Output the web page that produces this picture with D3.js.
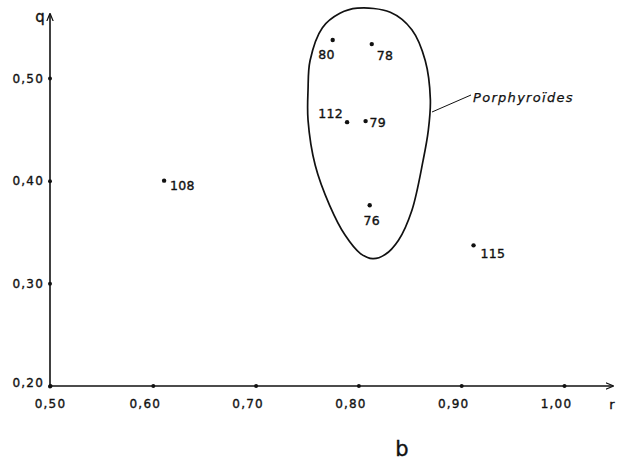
<!DOCTYPE html>
<html>
<head>
<meta charset="utf-8">
<script src="https://cdn.jsdelivr.net/npm/d3@7"></script>
<style>
  body { margin: 0; background: #fff; }
  svg text { font-family: "DejaVu Sans", "Liberation Sans", sans-serif; fill: #111; stroke: #111; stroke-width: 0.35px; }
  .tick-label { font-size: 12px; letter-spacing: 1.2px; }
  .pt-label { font-size: 12.5px; letter-spacing: 0.3px; }
</style>
</head>
<body>
<svg width="621" height="461"></svg>
<script>
(function() {

  // samples: name, r, q
  var names = ["108", "80", "78", "112", "79", "76", "115"];
  var rValues = [0.611, 0.775, 0.813, 0.789, 0.807, 0.811, 0.912];
  var qValues = [0.400, 0.537, 0.533, 0.457, 0.458, 0.376, 0.337];

  // outline of the Porphyroides field (r, q), closed curve
  var fieldR = [0.799, 0.831, 0.852, 0.865, 0.870, 0.868, 0.863, 0.852, 0.839, 0.826, 0.814,
                0.802, 0.787, 0.772, 0.758, 0.751, 0.751, 0.753, 0.765, 0.782];
  var fieldQ = [0.568, 0.564, 0.547, 0.517, 0.479, 0.449, 0.420, 0.371, 0.342, 0.328, 0.324,
                0.329, 0.347, 0.376, 0.415, 0.459, 0.488, 0.517, 0.549, 0.563];

  var xTicks = [0.5, 0.6, 0.7, 0.8, 0.9, 1.0];
  var yTicks = [0.2, 0.3, 0.4, 0.5];

  var svg = d3.select('svg');

  var x = d3.scaleLinear().domain([0.5, 1.0]).range([50, 564]);
  var y = d3.scaleLinear().domain([0.2, 0.5]).range([386, 78]);

  var fmt = function(d) { return d3.format('.2f')(d).replace('.', ','); };

  svg.append('defs').append('marker')
    .attr('id', 'arrow')
    .attr('viewBox', '0 0 10 10')
    .attr('refX', 9).attr('refY', 5)
    .attr('markerWidth', 8).attr('markerHeight', 8)
    .attr('markerUnits', 'userSpaceOnUse')
    .attr('orient', 'auto')
    .append('path')
    .attr('d', 'M0,1 L10,5 L0,9')
    .attr('fill', 'none')
    .attr('stroke', '#111')
    .attr('stroke-width', 1.5);

  // axes lines with arrows
  svg.append('line')
    .attr('x1', x(0.5)).attr('y1', y(0.2))
    .attr('x2', 613).attr('y2', y(0.2))
    .attr('stroke', '#111').attr('stroke-width', 1.3)
    .attr('marker-end', 'url(#arrow)');
  svg.append('line')
    .attr('x1', x(0.5)).attr('y1', y(0.2))
    .attr('x2', x(0.5)).attr('y2', 14)
    .attr('stroke', '#111').attr('stroke-width', 1.6)
    .attr('marker-end', 'url(#arrow)');

  // ticks drawn by d3 axes, domain removed
  var xAxis = svg.append('g')
    .attr('transform', 'translate(0,' + y(0.2) + ')')
    .call(d3.axisBottom(x).tickValues(xTicks).tickSize(0).tickPadding(0).tickFormat(fmt));
  xAxis.select('.domain').remove();
  xAxis.selectAll('.tick text')
    .attr('class', 'tick-label')
    .attr('dy', null)
    .attr('y', 22)
    .attr('dx', function(d) { return d === 0.5 ? 0 : -8; })
    .style('font-family', null).style('font-size', null);
  xAxis.selectAll('.tick').append('circle')
    .attr('r', 2).attr('fill', '#111');

  var yAxis = svg.append('g')
    .attr('transform', 'translate(' + x(0.5) + ',0)')
    .call(d3.axisLeft(y).tickValues(yTicks).tickSize(0).tickPadding(6).tickFormat(fmt));
  yAxis.select('.domain').remove();
  yAxis.selectAll('.tick text')
    .attr('class', 'tick-label')
    .attr('dy', function(d) { return d === 0.2 ? '0.05em' : '0.35em'; })
    .style('font-family', null).style('font-size', null);
  yAxis.selectAll('.tick').append('circle')
    .attr('r', 2).attr('fill', '#111');

  // axis names
  svg.append('text').attr('x', 40).attr('y', 22)
    .attr('text-anchor', 'middle').style('font-size', '15px').text('q');
  svg.append('text').attr('x', 612).attr('y', 409)
    .attr('text-anchor', 'middle').style('font-size', '13px').text('r');

  // field outline
  var field = fieldR.map(function(r, i) { return [r, fieldQ[i]]; });
  var line = d3.line()
    .x(function(d) { return x(d[0]); })
    .y(function(d) { return y(d[1]); })
    .curve(d3.curveCatmullRomClosed.alpha(0.5));
  svg.append('path')
    .datum(field)
    .attr('d', line)
    .attr('fill', 'none')
    .attr('stroke', '#111')
    .attr('stroke-width', 1.7);

  // leader to label
  svg.append('line')
    .attr('x1', 432).attr('y1', 112)
    .attr('x2', 471).attr('y2', 95)
    .attr('stroke', '#111').attr('stroke-width', 1);
  svg.append('text')
    .attr('x', 473).attr('y', 102)
    .style('font-size', '13px').style('font-style', 'italic').style('letter-spacing', '1.3px')
    .style('stroke-width', '0.25px')
    .text('Porphyroïdes');

  // points
  var points = names.map(function(n, i) { return {name: n, r: rValues[i], q: qValues[i]}; });

  svg.selectAll('.pt').data(points).enter().append('circle')
    .attr('class', 'pt')
    .attr('cx', function(d) { return x(d.r); })
    .attr('cy', function(d) { return y(d.q); })
    .attr('r', 2.2)
    .attr('fill', '#111');

  // label placement relative to dot
  var offsets = {
    '108': [6, 9, 'start'],
    '80': [2, 19, 'end'],
    '78': [5, 16, 'start'],
    '112': [-4, -4, 'end'],
    '79': [4, 6, 'start'],
    '76': [2, 20, 'middle'],
    '115': [7, 13, 'start']
  };

  svg.selectAll('.pt-label').data(points).enter().append('text')
    .attr('class', 'pt-label')
    .attr('x', function(d) { return x(d.r) + offsets[d.name][0]; })
    .attr('y', function(d) { return y(d.q) + offsets[d.name][1]; })
    .attr('text-anchor', function(d) { return offsets[d.name][2]; })
    .text(function(d) { return d.name; });

  svg.append('text')
    .attr('x', 402).attr('y', 456)
    .attr('text-anchor', 'middle')
    .style('font-size', '21px')
    .text('b');

})();
</script>
</body>
</html>
